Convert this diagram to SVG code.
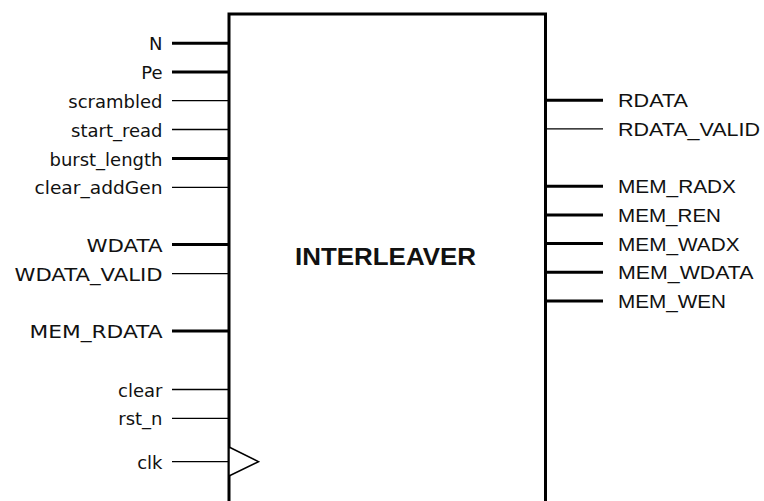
<svg xmlns="http://www.w3.org/2000/svg" width="764" height="501" viewBox="0 0 764 501">
<style>
.box{fill:none;stroke:#000;stroke-width:3}
.bus{stroke:#000;stroke-width:3;fill:none}
.sig{stroke:#000;stroke-width:1.3;fill:none}
.clk{fill:#fff;stroke:#000;stroke-width:1.5}
.lt{font-family:"DejaVu Sans",Verdana,sans-serif;font-size:18px;fill:#111;text-anchor:end}
.rt{font-family:"Liberation Sans",Arial,sans-serif;font-size:18.5px;fill:#111}
.title{font-family:"Liberation Sans",Arial,sans-serif;font-size:23px;font-weight:bold;fill:#111}
</style>
<rect width="764" height="501" fill="#fff"/>
<g id="interleaver">
  <path class="box" d="M229,505 V14 H545.5 V505"/>
  <polygon class="clk" points="229,447 258.5,461.7 229,476"/>
  <text class="title" x="295" y="265" textLength="181" lengthAdjust="spacingAndGlyphs">INTERLEAVER</text>
</g>
<g id="connectors">
  <line class="bus" x1="172" y1="43.3" x2="229" y2="43.3"/>
  <line class="bus" x1="172" y1="72" x2="229" y2="72"/>
  <line class="sig" x1="172" y1="100.7" x2="229" y2="100.7"/>
  <line class="sig" x1="172" y1="129.5" x2="229" y2="129.5"/>
  <line class="bus" x1="172" y1="158.5" x2="229" y2="158.5"/>
  <line class="sig" x1="172" y1="187.3" x2="229" y2="187.3"/>
  <line class="bus" x1="172" y1="244.5" x2="229" y2="244.5"/>
  <line class="sig" x1="172" y1="273.7" x2="229" y2="273.7"/>
  <line class="bus" x1="172" y1="331" x2="229" y2="331"/>
  <line class="sig" x1="172" y1="389.5" x2="229" y2="389.5"/>
  <line class="sig" x1="172" y1="418.3" x2="229" y2="418.3"/>
  <line class="sig" x1="172" y1="461.7" x2="229" y2="461.7"/>
  <line class="bus" x1="545.5" y1="100.3" x2="603" y2="100.3"/>
  <line class="sig" x1="545.5" y1="128.8" x2="603" y2="128.8"/>
  <line class="bus" x1="545.5" y1="186.3" x2="603" y2="186.3"/>
  <line class="bus" x1="545.5" y1="215" x2="603" y2="215"/>
  <line class="bus" x1="545.5" y1="243.5" x2="603" y2="243.5"/>
  <line class="bus" x1="545.5" y1="272.3" x2="603" y2="272.3"/>
  <line class="bus" x1="545.5" y1="301" x2="603" y2="301"/>
</g>
<g id="inputs">
  <text id="p-N" class="lt" x="162.5" y="50.3">N</text>
  <text id="p-Pe" class="lt" x="162.5" y="79">Pe</text>
  <text id="p-scrambled" class="lt" x="162.5" y="107.7">scrambled</text>
  <text id="p-start_read" class="lt" x="162.5" y="136.5">start_read</text>
  <text id="p-burst_length" class="lt" x="162.5" y="165.5">burst_length</text>
  <text id="p-clear_addGen" class="lt" x="162.5" y="194.3" textLength="128" lengthAdjust="spacingAndGlyphs">clear_addGen</text>
  <text id="p-WDATA" class="lt" x="162.5" y="251.5" textLength="76" lengthAdjust="spacingAndGlyphs">WDATA</text>
  <text id="p-WDATA_VALID" class="lt" x="162.5" y="280.7" textLength="148" lengthAdjust="spacingAndGlyphs">WDATA_VALID</text>
  <text id="p-MEM_RDATA" class="lt" x="162.5" y="338" textLength="133" lengthAdjust="spacingAndGlyphs">MEM_RDATA</text>
  <text id="p-clear" class="lt" x="162.5" y="396.5">clear</text>
  <text id="p-rst_n" class="lt" x="162.5" y="425.3">rst_n</text>
  <text id="p-clk" class="lt" x="162.5" y="468.7">clk</text>
</g>
<g id="outputs">
  <text id="p-RDATA" class="rt" x="618" y="107.3" textLength="70" lengthAdjust="spacingAndGlyphs">RDATA</text>
  <text id="p-RDATA_VALID" class="rt" x="618" y="135.8" textLength="142" lengthAdjust="spacingAndGlyphs">RDATA_VALID</text>
  <text id="p-MEM_RADX" class="rt" x="618" y="193.3" textLength="118" lengthAdjust="spacingAndGlyphs">MEM_RADX</text>
  <text id="p-MEM_REN" class="rt" x="618" y="222" textLength="103" lengthAdjust="spacingAndGlyphs">MEM_REN</text>
  <text id="p-MEM_WADX" class="rt" x="618" y="250.5" textLength="121.5" lengthAdjust="spacingAndGlyphs">MEM_WADX</text>
  <text id="p-MEM_WDATA" class="rt" x="618" y="279.3" textLength="135.5" lengthAdjust="spacingAndGlyphs">MEM_WDATA</text>
  <text id="p-MEM_WEN" class="rt" x="618" y="308" textLength="108" lengthAdjust="spacingAndGlyphs">MEM_WEN</text>
</g>
</svg>
